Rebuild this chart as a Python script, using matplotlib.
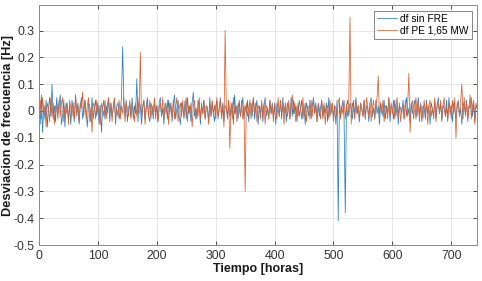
import numpy as np
import matplotlib
matplotlib.use("Agg")
import matplotlib.pyplot as plt

plt.rcParams['font.family'] = ['Liberation Sans', 'DejaVu Sans']
plt.rcParams['axes.unicode_minus'] = False

# time axis: hours, every 2 h over 744 h
hours = list(range(0, 746, 2))

# frequency deviation in hundredths of Hz
df_sin_fre_cHz = [
    3, -5, 6, -8, 2, -3, 4, -6, 1, 5, -2, 10, -3, 2, -4, 5, -1, 3, 6, -5,
    -2, 4, -6, 3, 1, -3, 2, -5, 4, 0, -4, 6, -2, 3, -5, 2, 5, -3, 1, 4,
    -1, -6, 3, 2, -4, 5, -3, 1, 4, -2, 3, -5, 2, -8, 1, 4, -3, 2, -1, 5,
    -4, 3, -2, 1, 4, -5, 2, 3, -3, 0, 5, 24, 3, -2, 4, -4, 1, 3, -2, 5,
    -3, 2, -1, 12, -4, 3, 2, -5, 1, 4, -3, 2, 5, -2, -4, 3, 1, -3, 4, -1,
    2, -4, 3, 5, -2, 1, -5, 3, 2, -3, 4, -1, 3, -4, 2, 6, -3, 1, 4, -2,
    -5, 3, 1, -2, 4, -3, 5, -1, 2, -4, 3, 7, -2, 1, -3, 4, 2, -5, 3, -1,
    4, -3, 2, 1, -4, 5, -2, 3, -1, -4, 2, 4, -3, 1, 5, -2, 3, -4, 2, 1,
    -3, 4, -2, 1, 3, -5, 6, -1, 2, -3, 4, -2, 1, 5, -3, 2, -1, 4, -4, 2,
    3, -2, 5, -3, 1, 4, -5, 2, -1, 3, -4, 2, 5, -2, 1, -3, 4, -1, 3, -2,
    2, -5, 3, 1, -2, 4, -3, 5, -1, 2, -4, 3, 1, -3, 5, -2, 4, -1, 2, -4,
    3, -2, 1, 4, -3, 2, -5, 3, 1, -2, 4, -3, 2, 5, -1, 3, -4, 2, -2, 1,
    4, -3, 2, -1, 3, -4, 5, -2, 1, 3, -3, 2, -5, 4, -41, 3, -2, 1, 4, -3,
    -38, 2, 4, -2, 3, 1, -3, 4, -2, 5, -1, 2, -4, 3, 1, -2, 4, -3, 2, 1,
    -4, 3, 5, -2, 1, -3, 4, -1, 2, -5, 3, 1, -2, 4, -3, 2, -1, 5, -4, 2,
    1, -3, 4, -2, 3, -5, 2, 1, -1, 4, -3, 2, 5, -2, 1, -4, 3, -1, 2, 4,
    -3, 1, 5, -2, 3, -4, 2, 1, -3, 4, -1, 2, -5, 3, 1, -2, 4, -3, 2, 5,
    -1, 3, -4, 2, 1, -2, 4, -3, 5, -1, 2, -4, 3, 1, -3, 2, 4, -2, 1, -5,
    3, 2, -1, 4, -3, 2, 1, 5, -2, 3, -4, 2, 1,
]

df_pe_cHz = [
    -2, 4, -3, 5, -1, 2, -6, 3, 1, -4, 5, -2, 3, -5, 2, 1, -3, 4, -2, 3,
    5, -4, 2, -1, 3, -5, 4, 1, -2, 3, -3, 6, -1, 2, -4, 3, 1, 7, -2, 4,
    -3, 2, 5, -4, 1, -8, 3, 2, -3, 4, -1, 2, -5, 3, 1, -2, 4, -3, 2, 5,
    -1, 3, -4, 2, 5, -3, 1, -2, 4, -3, 2, -1, 5, -4, 3, 1, -2, 4, -3, 2,
    1, -4, 3, -2, 5, -1, 22, -3, 2, 4, -5, 1, 3, -2, 4, -3, 2, -1, 5, -3,
    2, -4, 1, 3, -2, 5, -3, 2, -1, 4, -5, 3, 1, -2, 4, -3, 2, 5, -4, 1,
    3, -2, 4, -3, 1, 5, -4, 2, -1, 3, -6, 2, 4, -3, 1, -2, 5, -3, 2, -1,
    4, -3, 2, 1, -5, 3, -2, 4, -1, 2, -3, 5, -2, 1, 4, -3, 2, -6, 30, 1,
    -2, 4, -14, 3, -3, 5, -1, 2, -4, 3, 1, -2, 4, -3, 2, -30, 3, -2, 1, 4,
    -3, 2, 5, -1, 3, -4, 2, 1, -3, 4, -2, 3, -5, 2, 1, -3, 4, -1, 2, -4,
    3, 1, -3, 5, -2, 4, -1, 2, -5, 3, 1, -2, 4, -3, 2, 6, -1, 3, -4, 2,
    -2, 4, 1, -3, 5, -2, 3, -4, 2, 1, -3, 4, -2, 5, -1, 2, -4, 3, 1, -3,
    4, -2, 3, -5, 1, 2, -3, 4, -1, 3, -4, 2, 1, -2, 3, 5, -3, 2, -1, 4,
    -3, 2, -2, 4, 35, -5, 3, 1, -3, 4, -1, 2, -4, 3, 1, -2, 4, -3, 5, 2,
    -2, 3, -4, 1, 4, -3, 2, 5, 13, -2, 3, -1, 4, -4, 2, 1, -3, 5, -2, 3,
    -1, 4, -3, 2, 5, -2, 3, -4, 1, 2, -3, 4, -2, 3, 14, -8, 2, 4, -3, 1,
    5, -2, 3, -4, 2, 1, -3, 4, -1, 3, -5, 2, 4, -2, 1, -3, 5, -4, 2, 3,
    -1, 4, -3, 2, 5, -2, 1, -4, 3, 2, -3, 4, -1, 5, -10, 3, 2, -2, 4, 10,
    -3, 5, -2, 3, -4, 1, 6, -3, 2, 4, -5, 3, 1,
]

series_labels = ["df sin FRE", "df PE 1,65 MW"]
x_ticks = [0, 100, 200, 300, 400, 500, 600, 700]
y_ticks = [-0.5, -0.4, -0.3, -0.2, -0.1, 0, 0.1, 0.2, 0.3]
y_tick_labels = ["-0.5", "-0.4", "-0.3", "-0.2", "-0.1", "0", "0.1", "0.2", "0.3"]

blue = np.array(df_sin_fre_cHz) / 100.0
orange = np.array(df_pe_cHz) / 100.0

fig = plt.figure(figsize=(4.82, 2.81), dpi=100)
ax = fig.add_axes([0.081, 0.128, 0.909, 0.854])

ax.plot(hours, blue, color="#2a7fc0", lw=0.55, label=series_labels[0])
ax.plot(hours, orange, color="#d9602e", lw=0.55, label=series_labels[1])

ax.set_xlim(0, 744)
ax.set_ylim(-0.5, 0.395)
ax.set_xticks(x_ticks)
ax.set_yticks(y_ticks)
ax.set_yticklabels(y_tick_labels)
ax.grid(True, color="#e2e2e2", lw=0.6)
ax.set_axisbelow(True)
ax.tick_params(direction="in", length=3, labelsize=8.8, colors="#333333",
               top=True, right=True, labeltop=False, labelright=False, width=0.6)
for s in ax.spines.values():
    s.set_color("#8a8a8a")
    s.set_linewidth(0.7)

ax.set_xlabel("Tiempo [horas]", fontsize=9, fontweight="bold", labelpad=1, color="#1a1a1a")
ax.set_ylabel("Desviacion de frecuencia [Hz]", fontsize=9.2, fontweight="bold", color="#1a1a1a")
ax.yaxis.set_label_coords(-0.058, 0.5)

leg = ax.legend(loc="upper right", fontsize=7.3, frameon=True, fancybox=False,
                borderpad=0.3, handlelength=2.0, handletextpad=0.3,
                labelspacing=0.2, borderaxespad=0.55)
leg.get_frame().set_edgecolor("#505050")
leg.get_frame().set_linewidth(0.6)

fig.savefig("out.png", dpi=100)
